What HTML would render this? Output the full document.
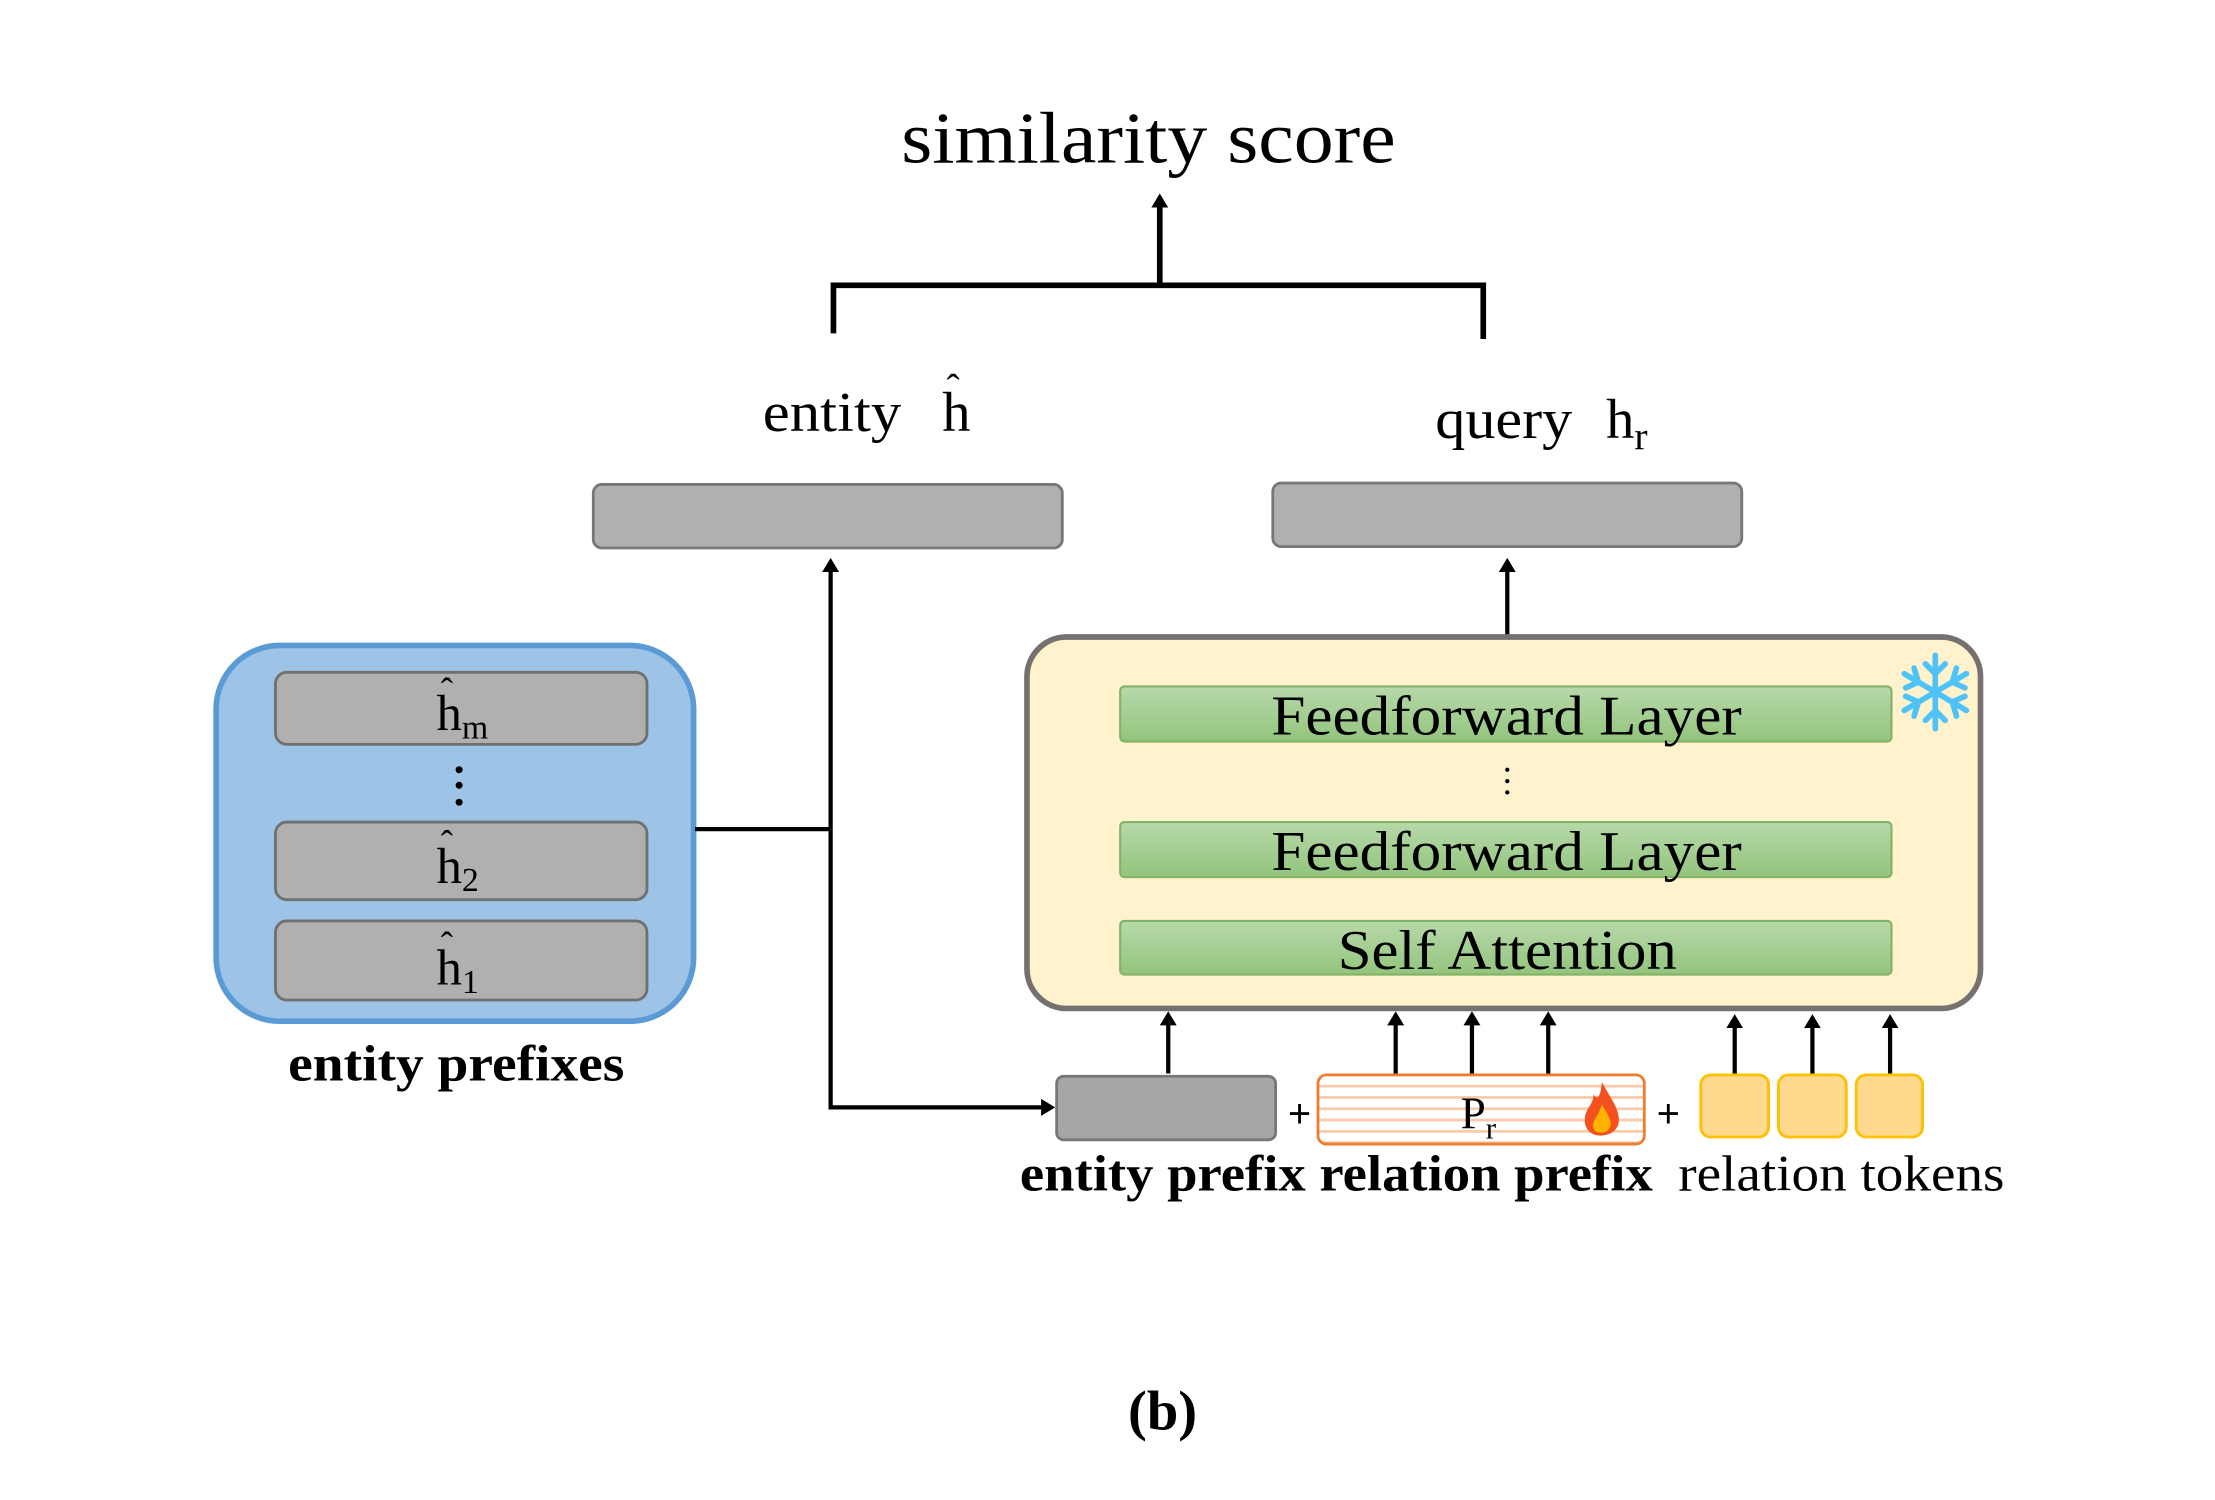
<!DOCTYPE html>
<html><head><meta charset="utf-8"><style>html,body{margin:0;padding:0;background:#fff}svg{display:block}</style></head>
<body>
<svg width="2215" height="1500" viewBox="0 0 1568 1062" preserveAspectRatio="none" xmlns="http://www.w3.org/2000/svg" font-family="'Liberation Serif', serif">
<defs>
<marker id="ah" markerWidth="10" markerHeight="12" refX="7" refY="6" orient="auto" markerUnits="userSpaceOnUse"><path d="M0,0 L10,6 L0,12 z" fill="#000"/></marker>
<linearGradient id="gg" x1="0" y1="0" x2="0" y2="1"><stop offset="0" stop-color="#b7d9aa"/><stop offset="1" stop-color="#93c47d"/></linearGradient>
<pattern id="stripe" width="10" height="8" patternUnits="userSpaceOnUse"><rect width="10" height="8" fill="#fff"/><rect y="0" width="10" height="2" fill="#f8cbad"/></pattern>
</defs>
<rect width="1568" height="1062" fill="#fff"/>
<text x="638" y="115" font-size="52" textLength="350" lengthAdjust="spacingAndGlyphs">similarity score</text>
<line x1="821" y1="202" x2="821" y2="140" stroke="#000" stroke-width="4" marker-end="url(#ah)"/>
<polyline points="590,236 590,202 1050,202 1050,240" fill="none" stroke="#000" stroke-width="4"/>
<text x="540" y="305" font-size="40" textLength="98" lengthAdjust="spacingAndGlyphs">entity</text>
<text x="667" y="305" font-size="40">h</text>
<text x="670" y="284" font-size="28">ˆ</text>
<text x="1016" y="310" font-size="40" textLength="97" lengthAdjust="spacingAndGlyphs">query</text>
<text x="1137" y="310" font-size="40">h<tspan font-size="28" dy="8">r</tspan></text>
<rect x="420" y="343" width="332" height="45" rx="6" fill="#b0b0b0" stroke="#777" stroke-width="2"/>
<rect x="901" y="342" width="332" height="45" rx="6" fill="#b0b0b0" stroke="#777" stroke-width="2"/>
<rect x="153" y="457" width="338" height="266" rx="45" fill="#9dc3e6" stroke="#5b9bd5" stroke-width="4"/>
<rect x="195" y="476" width="263" height="51" rx="8" fill="#b0b0b0" stroke="#707070" stroke-width="2"/>
<rect x="195" y="582" width="263" height="55" rx="8" fill="#b0b0b0" stroke="#707070" stroke-width="2"/>
<rect x="195" y="652" width="263" height="56" rx="8" fill="#b0b0b0" stroke="#707070" stroke-width="2"/>
<g font-size="36">
<text x="309" y="517">h<tspan font-size="24" dy="6">m</tspan></text><text x="312" y="498" font-size="26">ˆ</text>
<text x="309" y="625">h<tspan font-size="24" dy="6">2</tspan></text><text x="312" y="606" font-size="26">ˆ</text>
<text x="309" y="697">h<tspan font-size="24" dy="6">1</tspan></text><text x="312" y="678" font-size="26">ˆ</text>
</g>
<circle cx="325" cy="545" r="2.5"/><circle cx="325" cy="556" r="2.5"/><circle cx="325" cy="568" r="2.5"/>
<text x="204" y="765" font-size="36" font-weight="bold" textLength="238" lengthAdjust="spacingAndGlyphs">entity prefixes</text>
<line x1="492" y1="587" x2="588" y2="587" stroke="#000" stroke-width="3"/>
<line x1="588" y1="587" x2="588" y2="398" stroke="#000" stroke-width="3" marker-end="url(#ah)"/>
<polyline points="588,587 588,784 744,784" fill="none" stroke="#000" stroke-width="3" marker-end="url(#ah)"/>
<line x1="1067" y1="450" x2="1067" y2="398" stroke="#000" stroke-width="3" marker-end="url(#ah)"/>
<rect x="727" y="451" width="675" height="263" rx="28" fill="#fff2cc" stroke="#767171" stroke-width="4"/>
<rect x="793" y="486" width="546" height="39" rx="3" fill="url(#gg)" stroke="#82b366" stroke-width="1.5"/>
<rect x="793" y="582" width="546" height="39" rx="3" fill="url(#gg)" stroke="#82b366" stroke-width="1.5"/>
<rect x="793" y="652" width="546" height="38" rx="3" fill="url(#gg)" stroke="#82b366" stroke-width="1.5"/>
<text x="900" y="520" font-size="40" textLength="333" lengthAdjust="spacingAndGlyphs">Feedforward Layer</text>
<text x="900" y="616" font-size="40" textLength="333" lengthAdjust="spacingAndGlyphs">Feedforward Layer</text>
<text x="947" y="686" font-size="40" textLength="240" lengthAdjust="spacingAndGlyphs">Self Attention</text>
<circle cx="1067" cy="545" r="1.5"/><circle cx="1067" cy="553" r="1.5"/><circle cx="1067" cy="561" r="1.5"/>
<g stroke="#4fc3f7" stroke-width="4" stroke-linecap="round" transform="translate(1370,490)">
<line x1="0" y1="-26" x2="0" y2="26"/><line x1="-22" y1="-13" x2="22" y2="13"/><line x1="-22" y1="13" x2="22" y2="-13"/>
<polyline points="-7,-20 0,-13 7,-20" fill="none"/><polyline points="-7,20 0,13 7,20" fill="none"/>
<polyline points="-21,-3 -12,-7 -15,-17" fill="none"/><polyline points="21,3 12,7 15,17" fill="none"/>
<polyline points="21,-3 12,-7 15,-17" fill="none"/><polyline points="-21,3 -12,7 -15,17" fill="none"/>
</g>
<g stroke="#000" stroke-width="3">
<line x1="827" y1="760" x2="827" y2="719" marker-end="url(#ah)"/>
<line x1="988" y1="760" x2="988" y2="719" marker-end="url(#ah)"/>
<line x1="1042" y1="760" x2="1042" y2="719" marker-end="url(#ah)"/>
<line x1="1096" y1="760" x2="1096" y2="719" marker-end="url(#ah)"/>
<line x1="1228" y1="761" x2="1228" y2="721" marker-end="url(#ah)"/>
<line x1="1283" y1="761" x2="1283" y2="721" marker-end="url(#ah)"/>
<line x1="1338" y1="761" x2="1338" y2="721" marker-end="url(#ah)"/>
</g>
<rect x="748" y="762" width="155" height="45" rx="5" fill="#a6a6a6" stroke="#777" stroke-width="2"/>
<text x="920" y="798" font-size="28" text-anchor="middle" font-family="'Liberation Sans', sans-serif">+</text>
<rect x="933" y="761" width="231" height="49" rx="6" fill="url(#stripe)" stroke="#ed7d31" stroke-width="2"/>
<text x="1034" y="799" font-size="32">P<tspan font-size="22" dy="7">r</tspan></text>
<path d="M1134,766 C1140,778 1146,784 1146,793 C1146,800 1140,804 1133,804 C1126,804 1121,799 1122,791 C1123,784 1128,782 1128,775 C1131,779 1133,777 1134,766 z" fill="#f4511e"/>
<path d="M1134,782 C1138,789 1141,793 1140,797 C1139,801 1136,802 1133,802 C1129,802 1127,799 1128,795 C1129,791 1132,789 1134,782 z" fill="#ffb300"/>
<text x="1181" y="798" font-size="28" text-anchor="middle" font-family="'Liberation Sans', sans-serif">+</text>
<rect x="1204" y="761" width="48" height="44" rx="7" fill="#ffd98e" stroke="#ffc000" stroke-width="2"/>
<rect x="1259" y="761" width="48" height="44" rx="7" fill="#ffd98e" stroke="#ffc000" stroke-width="2"/>
<rect x="1314" y="761" width="47" height="44" rx="7" fill="#ffd98e" stroke="#ffc000" stroke-width="2"/>
<text x="722" y="843" font-size="36" font-weight="bold" textLength="448" lengthAdjust="spacingAndGlyphs">entity prefix relation prefix</text>
<text x="1188" y="843" font-size="36" textLength="231" lengthAdjust="spacingAndGlyphs">relation tokens</text>
<text x="823" y="1012" font-size="40" font-weight="bold" text-anchor="middle">(b)</text>
</svg>
</body></html>
